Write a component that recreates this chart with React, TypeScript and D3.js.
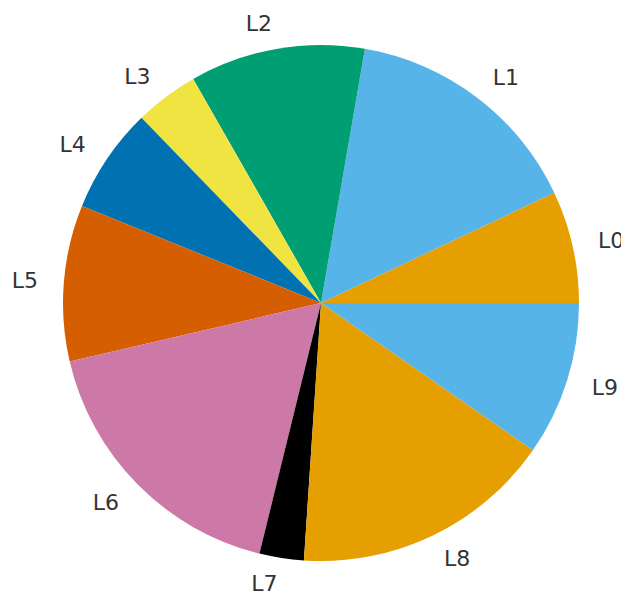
import React from "react";
import * as d3 from "d3";

const labels = ["L0", "L1", "L2", "L3", "L4", "L5", "L6", "L7", "L8", "L9"];
const values = [25.3, 54.9, 39.5, 14.4, 23.8, 35.2, 63.1, 10.0, 59.0, 34.8];
const colors = ["#E69F00", "#56B4E9", "#009E73", "#F0E442", "#0072B2", "#D55E00", "#CC79A7", "#000000", "#E69F00", "#56B4E9"];

const W = 621;
const H = 595;
const cx = 321;
const cy = 303;
const R = 258;

export default function App() {
  const data = labels.map((l, i) => ({ label: l, value: values[i], color: colors[i] }));
  const pie = d3
    .pie<any>()
    .value((d: any) => d.value)
    .sort(null)
    .startAngle(Math.PI / 2)
    .endAngle(Math.PI / 2 - 2 * Math.PI);
  const arcs = pie(data);
  const arc = d3.arc<any>().innerRadius(0).outerRadius(R);
  return (
    <svg width={W} height={H} style={{ position: "absolute", left: 0, top: 0, background: "#fff" }}>
      <g transform={`translate(${cx},${cy})`}>
        {arcs.map((a, i) => (
          <path key={i} d={arc(a) as string} fill={a.data.color} />
        ))}
        {arcs.map((a, i) => {
          const m = (a.startAngle + a.endAngle) / 2;
          const x = 1.1 * R * Math.sin(m);
          const y = -1.1 * R * Math.cos(m);
          return (
            <text
              key={"t" + i}
              x={x}
              y={y}
              textAnchor={x < 0 ? "end" : "start"}
              dominantBaseline="central"
              fontFamily="DejaVu Sans"
              fontSize={22}
              fill="#333"
            >
              {a.data.label}
            </text>
          );
        })}
      </g>
    </svg>
  );
}
